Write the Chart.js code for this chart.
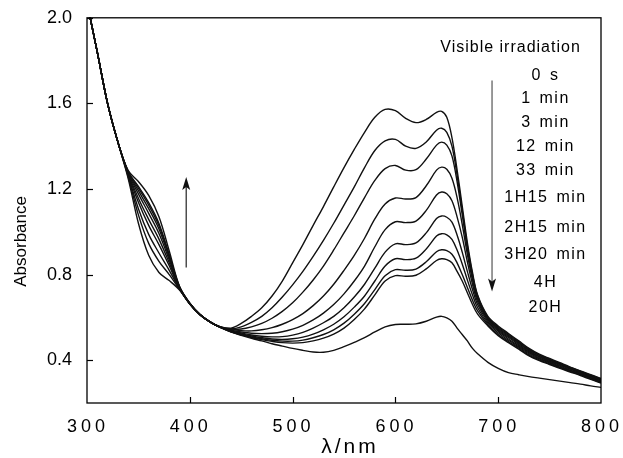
<!DOCTYPE html>
<html><head><meta charset="utf-8">
<script src="https://cdn.jsdelivr.net/npm/chart.js@4"></script>
<style>html,body{margin:0;padding:0;background:#fff}canvas{display:block}</style>
</head><body>
<canvas id="c" width="623" height="458"></canvas>
<script>
const WAVELENGTHS = [300,310,320,330,340,350,360,370,380,390,400,410,420,430,440,450,460,470,480,490,500,510,520,530,540,550,560,570,580,590,600,610,620,630,640,645,650,655,660,665,670,675,680,690,700,710,720,730,740,750,760,770,780,790,800];
const SERIES_LABELS = ["0 s","1 min","3 min","12 min","33 min","1H15 min","2H15 min","3H20 min","4H","20H"];
const S_0s = [2.07,1.84,1.60,1.42,1.25,1.04,0.89,0.81,0.772,0.728,0.662,0.612,0.578,0.556,
 0.55,0.572,0.605,0.645,0.70,0.77,0.855,0.94,1.03,1.118,1.21,1.30,1.385,1.465,1.535,1.572,
 1.566,1.53,1.51,1.525,1.558,1.563,1.535,1.44,1.29,1.12,0.95,0.81,0.705,0.605,0.56,
 0.525,0.49,0.455,0.428,0.408,0.388,0.368,0.35,0.332,0.315];
const S_1min = [2.07,1.84,1.60,1.42,1.258,1.079,0.946,0.862,0.80,0.731,0.662,0.612,0.578,0.555,
 0.547,0.556,0.577,0.605,0.645,0.695,0.752,0.815,0.885,0.96,1.04,1.125,1.21,1.30,1.38,1.425,
 1.432,1.40,1.39,1.42,1.475,1.484,1.465,1.40,1.265,1.10,0.935,0.80,0.70,0.60,0.555,
 0.521,0.486,0.452,0.425,0.405,0.385,0.366,0.348,0.33,0.313];
const S_3min = [2.07,1.84,1.60,1.42,1.264,1.108,0.988,0.901,0.82,0.733,0.663,0.612,0.578,0.554,
 0.545,0.546,0.556,0.572,0.596,0.628,0.668,0.718,0.775,0.84,0.915,0.995,1.075,1.16,1.24,1.295,
 1.31,1.288,1.29,1.34,1.405,1.419,1.405,1.355,1.235,1.08,0.92,0.79,0.693,0.596,0.55,
 0.516,0.482,0.448,0.422,0.402,0.383,0.363,0.346,0.328,0.311];
const S_12min = [2.07,1.84,1.60,1.42,1.269,1.138,1.03,0.94,0.841,0.735,0.663,0.612,0.578,0.554,
 0.543,0.538,0.537,0.542,0.552,0.568,0.59,0.618,0.655,0.70,0.755,0.82,0.89,0.97,1.06,1.13,
 1.158,1.153,1.16,1.215,1.288,1.302,1.292,1.25,1.16,1.035,0.895,0.775,0.685,0.592,0.545,
 0.511,0.478,0.444,0.418,0.399,0.38,0.361,0.343,0.325,0.308];
const S_33min = [2.07,1.84,1.60,1.42,1.273,1.157,1.058,0.966,0.855,0.737,0.664,0.612,0.578,0.553,
 0.54,0.532,0.526,0.524,0.526,0.533,0.545,0.563,0.588,0.62,0.66,0.71,0.77,0.84,0.93,1.01,
 1.047,1.043,1.05,1.10,1.172,1.186,1.178,1.145,1.07,0.975,0.86,0.755,0.673,0.587,0.54,
 0.506,0.473,0.439,0.415,0.395,0.376,0.358,0.34,0.322,0.305];
const S_1H15 = [2.07,1.84,1.60,1.42,1.276,1.177,1.086,0.992,0.869,0.739,0.664,0.612,0.578,0.553,
 0.537,0.527,0.518,0.512,0.509,0.51,0.517,0.53,0.55,0.575,0.605,0.645,0.695,0.755,0.83,0.905,
 0.944,0.94,0.948,0.995,1.062,1.074,1.068,1.045,0.985,0.905,0.815,0.73,0.66,0.58,0.535,
 0.499,0.467,0.434,0.41,0.391,0.372,0.354,0.337,0.319,0.302];
const S_2H15 = [2.07,1.84,1.60,1.42,1.279,1.192,1.108,1.013,0.88,0.741,0.665,0.613,0.578,0.553,
 0.535,0.523,0.513,0.505,0.499,0.497,0.50,0.508,0.522,0.542,0.568,0.603,0.648,0.70,0.77,0.84,
 0.874,0.87,0.877,0.92,0.98,0.991,0.986,0.965,0.915,0.85,0.775,0.705,0.645,0.573,0.528,
 0.493,0.462,0.429,0.406,0.387,0.368,0.351,0.334,0.316,0.299];
const S_3H20 = [2.07,1.84,1.60,1.42,1.281,1.204,1.125,1.028,0.888,0.742,0.665,0.613,0.578,0.553,
 0.533,0.52,0.509,0.50,0.493,0.489,0.489,0.494,0.505,0.52,0.542,0.573,0.615,0.665,0.73,0.795,
 0.823,0.82,0.826,0.86,0.907,0.916,0.912,0.895,0.855,0.80,0.74,0.68,0.63,0.566,0.52,
 0.487,0.457,0.424,0.402,0.383,0.365,0.348,0.331,0.313,0.296];
const S_4H = [2.07,1.84,1.60,1.42,1.283,1.212,1.136,1.039,0.893,0.743,0.666,0.613,0.578,0.553,
 0.532,0.518,0.506,0.496,0.488,0.482,0.48,0.482,0.49,0.503,0.522,0.55,0.59,0.64,0.705,0.77,
 0.795,0.792,0.797,0.827,0.866,0.874,0.87,0.855,0.815,0.77,0.715,0.66,0.615,0.56,0.515,
 0.482,0.452,0.42,0.398,0.38,0.362,0.345,0.328,0.31,0.293];
const S_20H = [2.07,1.84,1.60,1.42,1.287,1.235,1.17,1.07,0.91,0.745,0.666,0.613,0.578,0.552,
 0.532,0.516,0.502,0.49,0.477,0.466,0.455,0.446,0.438,0.437,0.446,0.463,0.483,0.505,0.532,0.556,
 0.567,0.568,0.57,0.582,0.601,0.605,0.598,0.582,0.55,0.52,0.49,0.455,0.43,0.39,0.362,
 0.342,0.332,0.323,0.316,0.309,0.302,0.295,0.288,0.28,0.273];
const ALL_SERIES = [S_0s,S_1min,S_3min,S_12min,S_33min,S_1H15,S_2H15,S_3H20,S_4H,S_20H];

const X_TICKS = [300,400,500,600,700,800];
const Y_TICKS = [0.4,0.8,1.2,1.6,2.0];
const X_TITLE = "λ/nm";
const Y_TITLE = "Absorbance";
const LEGEND_TITLE = "Visible irradiation";
const LEGEND_TITLE_POS = [712, 1.86];
const LEGEND_X = 746;
const LEGEND_Y = [1.730,1.623,1.512,1.400,1.284,1.158,1.019,0.893,0.763,0.647];
const ARROW_UP = [396.5, 0.833, 1.256];
const ARROW_DOWN = [694, 1.707, 0.721];

const FONT = "'Liberation Sans', Arial, Helvetica, sans-serif";

const datasets = ALL_SERIES.map((arr, k) => ({
  label: SERIES_LABELS[k],
  data: WAVELENGTHS.map((w, i) => ({x: w, y: arr[i]})),
  borderColor: '#111',
  borderWidth: 1.4,
  pointRadius: 0,
  fill: false,
  tension: 0.35
}));

function arrow(ctx, x, y0, y1) {
  const dir = y1 < y0 ? 1 : -1;
  ctx.beginPath();
  ctx.moveTo(x, y0);
  ctx.lineTo(x, y1 + dir * 10);
  ctx.stroke();
  ctx.beginPath();
  ctx.moveTo(x, y1);
  ctx.lineTo(x - 4, y1 + dir * 13);
  ctx.lineTo(x, y1 + dir * 10);
  ctx.lineTo(x + 4, y1 + dir * 13);
  ctx.closePath();
  ctx.fill();
}

const overlay = {
  id: 'overlay',
  afterDraw(chart) {
    const {ctx, chartArea: a, scales: {x, y}} = chart;
    ctx.save();
    ctx.strokeStyle = '#000';
    ctx.fillStyle = '#000';
    ctx.lineWidth = 1.3;
    ctx.strokeRect(a.left, a.top, a.right - a.left, a.bottom - a.top);
    ctx.lineWidth = 1.2;
    Y_TICKS.forEach(v => {
      const py = Math.round(y.getPixelForValue(v)) + 0.5;
      ctx.beginPath(); ctx.moveTo(a.left, py); ctx.lineTo(a.left + 6, py); ctx.stroke();
    });
    X_TICKS.forEach(v => {
      if (v === x.min || v === x.max) return;
      const px = Math.round(x.getPixelForValue(v)) + 0.5;
      ctx.beginPath(); ctx.moveTo(px, a.bottom); ctx.lineTo(px, a.bottom - 6); ctx.stroke();
    });
    ctx.font = '18px ' + FONT;
    ctx.letterSpacing = '4px';
    ctx.textAlign = 'center';
    ctx.textBaseline = 'middle';
    X_TICKS.forEach(v => ctx.fillText(String(v), x.getPixelForValue(v) + 1, a.bottom + 24));
    ctx.font = '21px ' + FONT;
    ctx.letterSpacing = '3px';
    ctx.fillText(X_TITLE, (a.left + a.right) / 2 + 6, a.bottom + 44);
    ctx.letterSpacing = '0px';
    ctx.save();
    ctx.translate(a.left - 66, (a.top + a.bottom) / 2 + 31);
    ctx.rotate(-Math.PI / 2);
    ctx.font = '17px ' + FONT;
    ctx.fillText(Y_TITLE, 0, 0);
    ctx.restore();
    ctx.font = '16px ' + FONT;
    ctx.letterSpacing = '1px';
    ctx.fillText(LEGEND_TITLE, x.getPixelForValue(LEGEND_TITLE_POS[0]), y.getPixelForValue(LEGEND_TITLE_POS[1]));
    ctx.letterSpacing = '1.5px';
    ctx.wordSpacing = '2px';
    SERIES_LABELS.forEach((t, k) => {
      ctx.fillText(t, x.getPixelForValue(LEGEND_X), y.getPixelForValue(LEGEND_Y[k]));
    });
    ctx.wordSpacing = '0px';
    ctx.letterSpacing = '0px';
    ctx.lineWidth = 1.2;
    ctx.strokeStyle = '#222'; ctx.fillStyle = '#111';
    arrow(ctx, x.getPixelForValue(ARROW_UP[0]), y.getPixelForValue(ARROW_UP[1]), y.getPixelForValue(ARROW_UP[2]));
    ctx.strokeStyle = '#555';
    arrow(ctx, x.getPixelForValue(ARROW_DOWN[0]), y.getPixelForValue(ARROW_DOWN[1]), y.getPixelForValue(ARROW_DOWN[2]));
    ctx.restore();
  }
};

new Chart(document.getElementById('c'), {
  type: 'line',
  data: {datasets},
  plugins: [overlay],
  options: {
    responsive: false,
    animation: false,
    devicePixelRatio: 1,
    layout: {padding: {left: 0, top: 17, right: 22, bottom: 0}},
    plugins: {legend: {display: false}, tooltip: {enabled: false}},
    scales: {
      x: {
        type: 'linear', min: 300, max: 800,
        grid: {display: false}, border: {display: false},
        ticks: {display: false},
        afterFit(s) { s.height = 55; }
      },
      y: {
        type: 'linear', min: 0.2, max: 2.0,
        grid: {display: false}, border: {display: false},
        afterBuildTicks(s) { s.ticks = Y_TICKS.map(v => ({value: v})); },
        ticks: {
          color: '#000', padding: 7,
          font: {family: FONT, size: 18},
          callback: v => v.toFixed(1)
        },
        afterFit(s) { s.width = 87; }
      }
    }
  }
});
</script>
</body></html>
